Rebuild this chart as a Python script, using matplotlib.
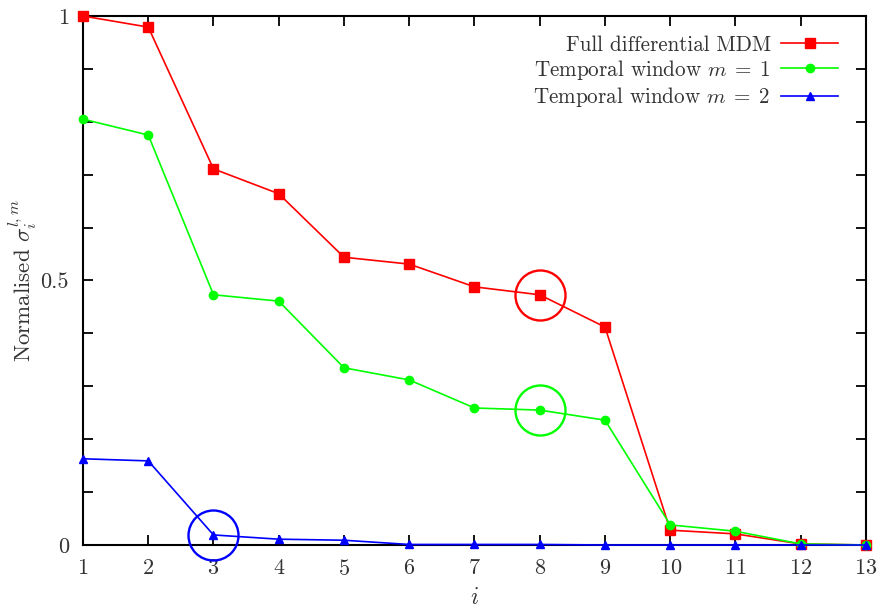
import matplotlib
matplotlib.use("Agg")
import matplotlib.pyplot as plt
import numpy as np

plt.rcParams['font.family'] = ['cmr10', 'DejaVu Serif']
plt.rcParams['mathtext.fontset'] = 'cm'
plt.rcParams['axes.formatter.use_mathtext'] = True

i_vals = list(range(1, 14))
full_mdm = [1.0, 0.979, 0.711, 0.664, 0.544, 0.531, 0.488, 0.473, 0.412, 0.028, 0.021, 0.002, 0.0]
window_m1 = [0.805, 0.775, 0.473, 0.461, 0.335, 0.312, 0.259, 0.255, 0.236, 0.038, 0.026, 0.002, 0.0]
window_m2 = [0.163, 0.159, 0.019, 0.011, 0.009, 0.001, 0.001, 0.001, 0.0, 0.0, 0.0, 0.0, 0.0]

# highlighted points: (series, index)
highlights = [(full_mdm, 8), (window_m1, 8), (window_m2, 3)]

fig = plt.figure(figsize=(8.81, 6.14), dpi=100)
ax = fig.add_axes([83 / 881, 1 - 545 / 614, (866 - 83) / 881, (545 - 16) / 614])

ax.plot(i_vals, full_mdm, color='#ff0000', lw=1.2, marker='s', ms=6.5,
        label='Full differential MDM', clip_on=False, zorder=3)
ax.plot(i_vals, window_m1, color='#00ff00', lw=1.2, marker='o', ms=6,
        label=r'Temporal window $m\;=\;1$', clip_on=False, zorder=3)
ax.plot(i_vals, window_m2, color='#0000ff', lw=1.2, marker='^', ms=6,
        label=r'Temporal window $m\;=\;2$', clip_on=False, zorder=3)

circle_colors = ['#ff0000', '#00ff00', '#0000ff']
for (series, idx), c in zip(highlights, circle_colors):
    ax.plot(idx, series[idx - 1], marker='o', ms=36, mfc='none', mec=c, mew=1.7,
            linestyle='none', clip_on=False, zorder=4)

ax.set_xlim(1, 13)
ax.set_ylim(0, 1)
ax.set_xticks(i_vals)
ax.set_yticks([0, 0.5, 1])
ax.set_yticklabels(['0', '0.5', '1'])
ax.set_yticks(np.arange(0, 1.01, 0.1), minor=True)
ax.tick_params(direction='in', top=True, right=True, length=7, width=1.3,
               labelsize=16, labelcolor='#333333', pad=10)
ax.tick_params(which='minor', direction='in', right=True, length=7, width=1.3)
for s in ax.spines.values():
    s.set_linewidth(1.5)
    s.set_zorder(2)

ax.set_xlabel('$i$', fontsize=17, color='#333333', labelpad=6)
ax.set_ylabel(r'Normalised $\sigma_i^{l,m}$', fontsize=16.5, color='#333333', labelpad=1)

leg = ax.legend(loc='upper right', bbox_to_anchor=(0.9726, 0.976), frameon=False,
                markerfirst=False, numpoints=1, fontsize=15.2, handlelength=2.7,
                labelspacing=0.15, borderaxespad=0, borderpad=0.3, handletextpad=0.5)
for t in leg.get_texts():
    t.set_color('#333333')

fig.savefig('out.png', dpi=100)
